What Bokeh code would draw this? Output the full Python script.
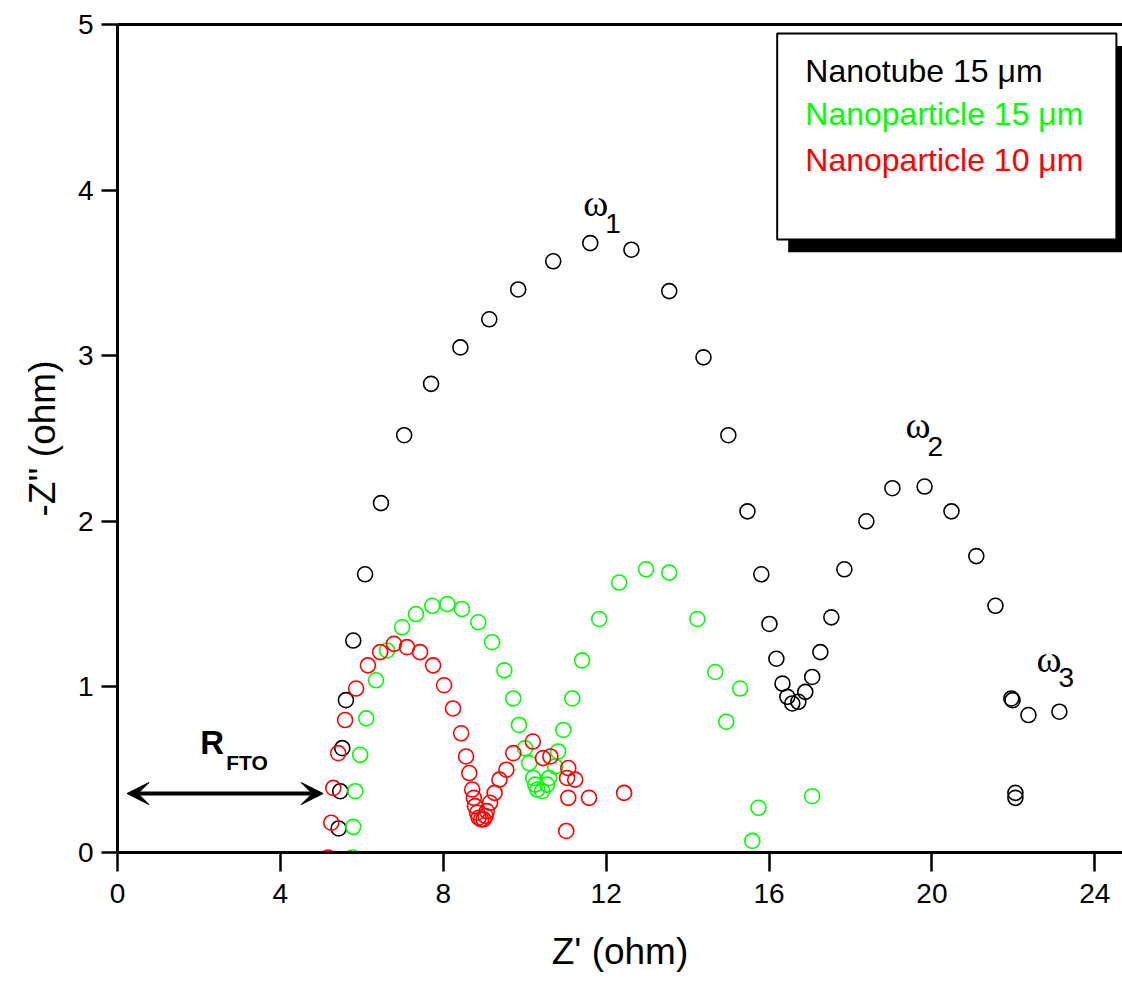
from bokeh.plotting import figure
from bokeh.models import Range1d, LinearAxis, FixedTicker, Label, BoxAnnotation, Arrow, VeeHead
from bokeh.embed import file_html
from bokeh.resources import INLINE

# ---------------- data ----------------
nt15_x = [5.43, 5.47, 5.52, 5.61, 5.79, 6.08, 6.47, 7.04, 7.70, 8.42, 9.13, 9.84, 10.70, 11.61,
          12.62, 13.55, 14.39, 15.00, 15.47, 15.81, 16.01, 16.18, 16.33, 16.45, 16.57, 16.72,
          16.89, 17.06, 17.26, 17.53, 17.85, 18.39, 19.03, 19.82, 20.48, 21.09, 21.56, 21.95,
          21.98, 22.37, 23.13, 22.05, 22.05]
nt15_y = [0.145, 0.37, 0.63, 0.92, 1.28, 1.68, 2.11, 2.52, 2.83, 3.05, 3.22, 3.40, 3.57, 3.68,
          3.64, 3.39, 2.99, 2.52, 2.06, 1.68, 1.38, 1.17, 1.02, 0.94, 0.90, 0.91,
          0.97, 1.06, 1.21, 1.42, 1.71, 2.00, 2.20, 2.21, 2.06, 1.79, 1.49, 0.93,
          0.92, 0.83, 0.85, 0.36, 0.33]

np15_x = [5.77, 5.79, 5.84, 5.96, 6.11, 6.35, 6.62, 6.99, 7.33, 7.73, 8.10, 8.46, 8.86, 9.20,
          9.50, 9.72, 9.86, 10.01, 10.11, 10.21, 10.26, 10.31, 10.43, 10.55, 10.60, 10.75,
          10.82, 10.95, 11.17, 11.41, 11.83, 12.32, 12.98, 13.55, 14.24, 14.68, 15.29, 14.95,
          15.74, 15.59, 17.06]
np15_y = [-0.03, 0.155, 0.37, 0.59, 0.81, 1.04, 1.22, 1.36, 1.44, 1.49, 1.50, 1.47, 1.39, 1.27,
          1.10, 0.93, 0.77, 0.63, 0.54, 0.45, 0.41, 0.38, 0.37, 0.41, 0.45, 0.52,
          0.61, 0.74, 0.93, 1.16, 1.41, 1.63, 1.71, 1.69, 1.41, 1.09, 0.99, 0.79,
          0.27, 0.07, 0.34]

np10_x = [5.17, 5.25, 5.30, 5.42, 5.59, 5.86, 6.15, 6.45, 6.79, 7.11, 7.43, 7.75, 8.02, 8.24,
          8.44, 8.56, 8.64, 8.71, 8.75, 8.78, 8.83, 8.87, 8.93, 8.99, 9.04, 9.07, 9.15, 9.26,
          9.38, 9.55, 9.72, 10.20, 10.45, 10.63, 11.07, 11.04, 11.24, 11.07, 11.58, 12.44, 11.02]
np10_y = [-0.03, 0.18, 0.39, 0.60, 0.80, 0.99, 1.13, 1.21, 1.26, 1.24, 1.21, 1.13, 1.01, 0.87,
          0.72, 0.58, 0.48, 0.38, 0.33, 0.28, 0.24, 0.21, 0.20, 0.20, 0.22, 0.25, 0.30, 0.36,
          0.44, 0.50, 0.60, 0.67, 0.57, 0.58, 0.51, 0.45, 0.44, 0.33, 0.33, 0.36, 0.13]

series_names = ["Nanotube 15 \u03bcm", "Nanoparticle 15 \u03bcm", "Nanoparticle 10 \u03bcm"]
series_colors = ["#000000", "#00ff00", "#ff0000"]

x_ticks = [0, 4, 8, 12, 16, 20, 24]
y_ticks = [0, 1, 2, 3, 4, 5]
x_title = "Z' (ohm)"
y_title = "-Z'' (ohm)"

# ---------------- figure ----------------
p = figure(width=1122, height=980, x_range=Range1d(0, 24.68), y_range=Range1d(0, 5),
           output_backend="svg", toolbar_location=None,
           min_border_left=117, min_border_right=0, min_border_top=24, min_border_bottom=128)
p.grid.visible = False
p.outline_line_color = None
p.background_fill_color = "white"
p.border_fill_color = "white"

for ax in (p.xaxis[0], p.yaxis[0]):
    ax.axis_line_width = 3
    ax.major_tick_line_width = 2.5
    ax.major_tick_in = 0
    ax.minor_tick_line_color = None
    ax.major_label_text_font = "Liberation Sans"
    ax.major_label_text_font_size = "28px"
    ax.major_label_text_color = "black"
    ax.axis_label_text_font = "Liberation Sans"
    ax.axis_label_text_font_size = "37px"
    ax.axis_label_text_font_style = "normal"
    ax.axis_label_text_color = "black"

p.xaxis.ticker = FixedTicker(ticks=x_ticks)
p.yaxis.ticker = FixedTicker(ticks=y_ticks)
p.xaxis.major_tick_out = 19
p.yaxis.major_tick_out = 16
p.xaxis.major_label_standoff = 12
p.yaxis.major_label_standoff = 8
p.xaxis.axis_label = x_title
p.yaxis.axis_label = y_title
p.xaxis.axis_label_standoff = 25
p.yaxis.axis_label_standoff = 12

top = LinearAxis(ticker=FixedTicker(ticks=[]), axis_line_width=3,
                 major_tick_line_color=None, minor_tick_line_color=None,
                 major_label_text_font_size="0px")
p.add_layout(top, "above")

for xs, ys, c in ((nt15_x, nt15_y, series_colors[0]),
                  (np15_x, np15_y, series_colors[1]),
                  (np10_x, np10_y, series_colors[2])):
    p.scatter(xs, ys, marker="circle", size=15, fill_color=None, line_color=c, line_width=1.6)

# legend box with shadow
p.add_layout(BoxAnnotation(left=16.47, right=25.5, top=4.87, bottom=3.625,
                           fill_color="black", fill_alpha=1, line_color=None))
p.add_layout(BoxAnnotation(left=16.20, right=24.53, top=4.946, bottom=3.702,
                           fill_color="white", fill_alpha=1, line_color="black",
                           line_alpha=1, line_width=2))
for name, c, yy in zip(series_names, series_colors, (4.718, 4.458, 4.180)):
    p.add_layout(Label(x=16.89, y=yy, text=name, text_color=c, text_font="Liberation Sans",
                       text_font_size="32px", text_baseline="alphabetic"))

# omega annotations
for wx, wy, sx, sy, sub in ((11.44, 3.92, 11.98, 3.80, "1"),
                            (19.35, 2.58, 19.89, 2.45, "2"),
                            (22.57, 1.17, 23.11, 1.055, "3")):
    p.add_layout(Label(x=wx, y=wy, text="\u03c9", text_font="Liberation Serif",
                       text_font_size="38px", text_baseline="alphabetic", text_color="black"))
    p.add_layout(Label(x=sx, y=sy, text=sub, text_font="Liberation Sans",
                       text_font_size="28px", text_baseline="alphabetic", text_color="black"))

# R_FTO annotation
p.add_layout(Label(x=2.03, y=0.664, text="R", text_font="Liberation Sans", text_font_size="33px",
                   text_font_style="bold", text_baseline="alphabetic", text_color="black"))
p.add_layout(Label(x=2.67, y=0.545, text="FTO", text_font="Liberation Sans", text_font_size="21px",
                   text_font_style="bold", text_baseline="alphabetic", text_color="black"))
p.add_layout(Arrow(x_start=0.233, y_start=0.356, x_end=5.05, y_end=0.356, line_width=4,
                   line_color="black",
                   start=VeeHead(size=22, fill_color="black", fill_alpha=1, line_color="black",
                                 line_width=1),
                   end=VeeHead(size=22, fill_color="black", fill_alpha=1, line_color="black",
                               line_width=1)))

open("out.html", "w").write(file_html(p, INLINE))
